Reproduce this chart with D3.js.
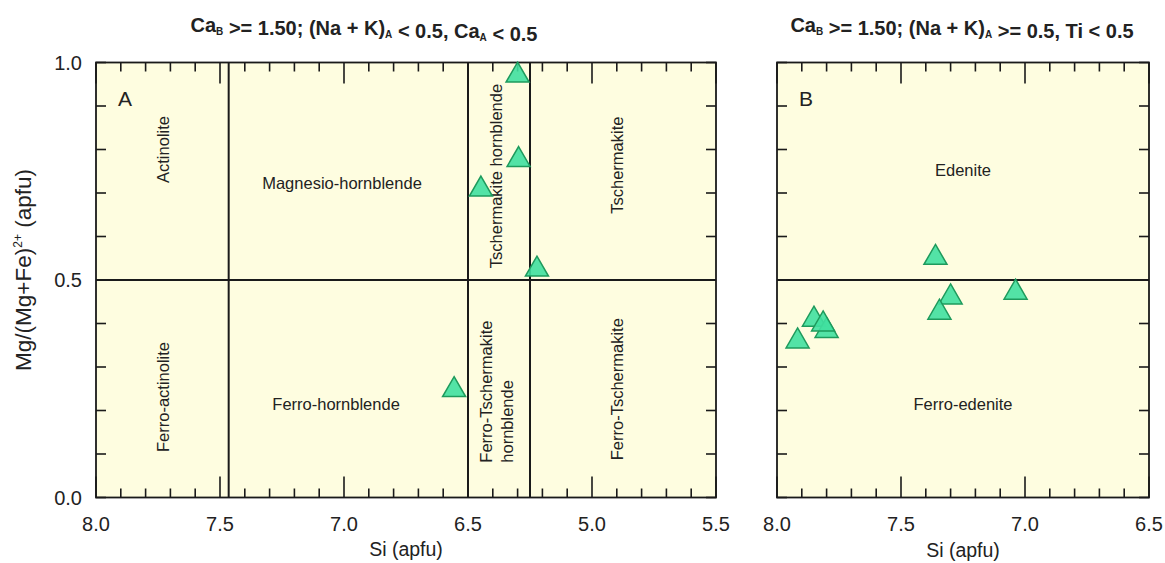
<!DOCTYPE html>
<html>
<head>
<meta charset="utf-8">
<script src="https://cdn.jsdelivr.net/npm/d3@7"></script>
<style>
  html, body { margin: 0; padding: 0; background: #ffffff; }
  svg { display: block; font-family: "Liberation Sans", Arial, sans-serif; }
</style>
</head>
<body>
<svg id="chart" width="1165" height="563"></svg>
<script>
// Amphibole classification — two calcic-amphibole fields

// Panel A: Si (apfu) vs Mg/(Mg+Fe2+)
const siA = [6.300, 6.296, 6.448, 6.222, 6.556];
const mgA = [0.976, 0.782, 0.714, 0.530, 0.253];

// Panel B: Si (apfu) vs Mg/(Mg+Fe2+)
const siB = [7.361, 7.300, 7.345, 7.038, 7.851, 7.800, 7.814, 7.917];
const mgB = [0.557, 0.466, 0.431, 0.477, 0.415, 0.389, 0.404, 0.365];

// Axis tick values and the labels printed under them
const xTicksA = [8.0, 7.5, 7.0, 6.5, 6.0, 5.5];
const xTickLabelsA = ["8.0", "7.5", "7.0", "6.5", "5.0", "5.5"];
const xTicksB = [8.0, 7.5, 7.0, 6.5];
const xTickLabelsB = ["8.0", "7.5", "7.0", "6.5"];
const yTicks = [0.0, 0.5, 1.0];
const yTickLabels = ["0.0", "0.5", "1.0"];

// Field boundaries
const siBoundsA = [7.465, 6.5, 6.25];
const mgBound = 0.5;

// Field names: [Si, Mg#, text lines, vertical?]
const fieldsA = [
  [7.73, 0.80, ["Actinolite"], true],
  [7.008, 0.723, ["Magnesio-hornblende"], false],
  [6.385, 0.739, ["Tschermakite hornblende"], true],
  [5.90, 0.764, ["Tschermakite"], true],
  [7.73, 0.231, ["Ferro-actinolite"], true],
  [7.032, 0.215, ["Ferro-hornblende"], false],
  [6.385, 0.08, ["Ferro-Tschermakite", "hornblende"], true, "start"],
  [5.90, 0.249, ["Ferro-Tschermakite"], true]
];
const fieldsB = [
  [7.25, 0.753, ["Edenite"], false],
  [7.25, 0.215, ["Ferro-edenite"], false]
];

const svg = d3.select("#chart");
const yTop = 62.5, yBot = 497.5;
const y = d3.scaleLinear().domain([0, 1]).range([yBot, yTop]);
const xA = d3.scaleLinear().domain([8, 5.5]).range([96, 716]);
const xB = d3.scaleLinear().domain([8, 6.5]).range([777, 1149]);

const BG = "#fefde0";
const INK = "#1a1a1a";
const TXT = "#222";
const TRI_FILL = "#40e0a0";
const TRI_STROKE = "#1e9a5c";

function panel(x, opts) {
  const g = svg.append("g");
  const [x0, x1] = x.range();

  g.append("rect")
    .attr("x", x0).attr("y", yTop)
    .attr("width", x1 - x0).attr("height", yBot - yTop)
    .attr("fill", BG);

  // minor / major ticks on all four sides, pointing inward
  const lo = Math.min(...x.domain()), hi = Math.max(...x.domain());
  const xMinor = d3.range(Math.round(lo * 10), Math.round(hi * 10) + 1).map(d => d / 10);
  xMinor.forEach(v => {
    const major = Math.abs(v * 2 - Math.round(v * 2)) < 1e-6;
    const len = major ? 21 : 9;
    const px = x(v);
    g.append("line").attr("x1", px).attr("x2", px).attr("y1", yBot).attr("y2", yBot - len)
      .attr("stroke", INK).attr("stroke-width", 1.6);
    g.append("line").attr("x1", px).attr("x2", px).attr("y1", yTop).attr("y2", yTop + len)
      .attr("stroke", INK).attr("stroke-width", 1.6);
  });
  d3.range(0, 11).map(d => d / 10).forEach(v => {
    const py = y(v);
    g.append("line").attr("x1", x0).attr("x2", x0 + 10).attr("y1", py).attr("y2", py)
      .attr("stroke", INK).attr("stroke-width", 1.6);
    g.append("line").attr("x1", x1).attr("x2", x1 - 10).attr("y1", py).attr("y2", py)
      .attr("stroke", INK).attr("stroke-width", 1.6);
  });

  // field boundaries
  g.append("line").attr("x1", x0).attr("x2", x1).attr("y1", y(mgBound)).attr("y2", y(mgBound))
    .attr("stroke", INK).attr("stroke-width", 2);
  (opts.bounds || []).forEach(s => {
    g.append("line").attr("x1", x(s)).attr("x2", x(s)).attr("y1", yTop).attr("y2", yBot)
      .attr("stroke", INK).attr("stroke-width", 2);
  });

  // frame
  g.append("rect")
    .attr("x", x0).attr("y", yTop)
    .attr("width", x1 - x0).attr("height", yBot - yTop)
    .attr("fill", "none").attr("stroke", INK).attr("stroke-width", 1.8);

  // field names
  opts.fields.forEach(([s, m, lines, vert, anchor]) => {
    const t = g.append("text")
      .attr("transform", `translate(${x(s)},${y(m)})` + (vert ? " rotate(-90)" : ""))
      .attr("text-anchor", anchor || "middle")
      .attr("font-size", 16.5)
      .attr("fill", TXT);
    const n = lines.length;
    lines.forEach((ln, i) => {
      t.append("tspan").attr("x", 0)
        .attr("dy", i === 0 ? `${0.35 - (n - 1) * 0.62}em` : "1.25em")
        .text(ln);
    });
  });

  // panel letter
  g.append("text").attr("x", x0 + 22).attr("y", yTop + 43)
    .attr("font-size", 21).attr("fill", TXT).text(opts.letter);

  // data points
  const tri = d3.symbol().type(d3.symbolTriangle).size(230);
  g.selectAll("path.pt").data(opts.si.map((s, i) => [s, opts.mg[i]]))
    .join("path")
    .attr("class", "pt")
    .attr("d", tri)
    .attr("transform", d => `translate(${x(d[0])},${y(d[1]) + 2.5})`)
    .attr("fill", TRI_FILL)
    .attr("fill-opacity", 0.9)
    .attr("stroke", TRI_STROKE)
    .attr("stroke-width", 1.5);

  // x tick labels
  opts.xTicks.forEach((v, i) => {
    g.append("text").attr("x", x(v)).attr("y", 531)
      .attr("text-anchor", "middle").attr("font-size", 20).attr("fill", TXT)
      .text(opts.xLabels[i]);
  });

  // x axis title
  g.append("text").attr("x", (x0 + x1) / 2).attr("y", opts.xTitleY)
    .attr("text-anchor", "middle").attr("font-size", 19.5).attr("fill", TXT)
    .text("Si (apfu)");

  // panel title with subscripts
  const title = g.append("text").attr("x", opts.titleX).attr("y", 32)
    .attr("text-anchor", "middle").attr("font-size", 20).attr("font-weight", "bold").attr("fill", TXT);
  opts.title.forEach(([txt, sub]) => {
    if (sub) {
      title.append("tspan").attr("font-size", 10).attr("dy", 3).text(txt);
      title.append("tspan").attr("dy", -3).text("");
    } else {
      title.append("tspan").text(txt);
    }
  });
  return g;
}

panel(xA, {
  letter: "A", bounds: siBoundsA, fields: fieldsA, si: siA, mg: mgA,
  xTicks: xTicksA, xLabels: xTickLabelsA, titleX: 364, xTitleY: 556,
  title: [["Ca"], ["B", true], [" >= 1.50; (Na + K)"], ["A", true], [" < 0.5, Ca"], ["A", true], [" < 0.5"]]
});
panel(xB, {
  letter: "B", bounds: [], fields: fieldsB, si: siB, mg: mgB,
  xTicks: xTicksB, xLabels: xTickLabelsB, titleX: 962, xTitleY: 557,
  title: [["Ca"], ["B", true], [" >= 1.50; (Na + K)"], ["A", true], [" >= 0.5, Ti < 0.5"]]
});

// y tick labels (left panel only)
yTicks.forEach((v, i) => {
  svg.append("text").attr("x", 82).attr("y", y(v) + 7)
    .attr("text-anchor", "end").attr("font-size", 20).attr("fill", TXT)
    .text(yTickLabels[i]);
});

// y axis title
const yt = svg.append("text")
  .attr("transform", `translate(31,${y(0.5) - 10}) rotate(-90)`)
  .attr("text-anchor", "middle").attr("font-size", 22.5).attr("fill", TXT);
yt.append("tspan").text("Mg/(Mg+Fe)");
yt.append("tspan").attr("font-size", 12).attr("dy", -9).text("2+");
yt.append("tspan").attr("dy", 9).text(" (apfu)");
</script>
</body>
</html>
